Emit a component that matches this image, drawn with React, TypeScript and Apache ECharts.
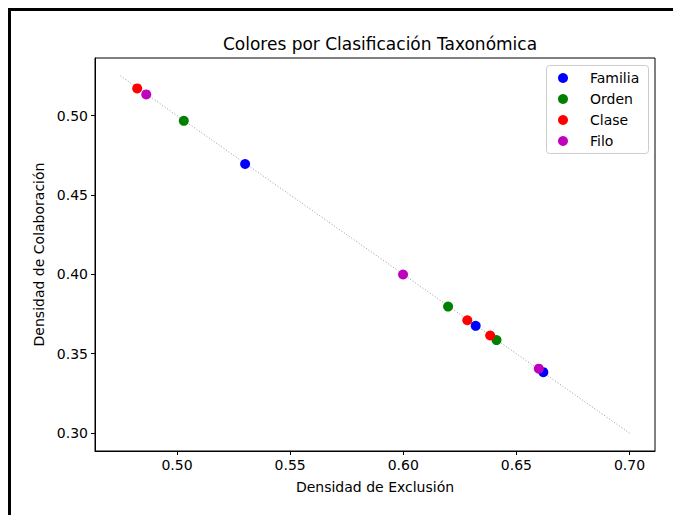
import React, { useEffect, useRef } from "react";
import * as echarts from "echarts";

const title = "Colores por Clasificación Taxonómica";
const xLabel = "Densidad de Exclusión";
const yLabel = "Densidad de Colaboración";

const categories = ["Familia", "Orden", "Clase", "Filo"];
const colors = ["#0000ff", "#008000", "#ff0000", "#bf00bf"];

const familiaPts: [number, number][] = [
  [0.5301, 0.4695],
  [0.632, 0.3676],
  [0.6619, 0.3384],
];
const ordenPts: [number, number][] = [
  [0.503, 0.4967],
  [0.6198, 0.3797],
  [0.6412, 0.3586],
];
const clasePts: [number, number][] = [
  [0.4824, 0.5171],
  [0.6283, 0.3711],
  [0.6384, 0.3615],
];
const filoPts: [number, number][] = [
  [0.4864, 0.5133],
  [0.5999, 0.3999],
  [0.6599, 0.3406],
];
const seriesPts = [familiaPts, ordenPts, clasePts, filoPts];

const refLine: [number, number][] = [
  [0.475, 0.525],
  [0.7, 0.3],
];

const xRange = [0.46375, 0.71125];
const yRange = [0.28875, 0.53625];

const FONT = "DejaVu Sans";

export default function App() {
  const ref = useRef<HTMLDivElement>(null);
  useEffect(() => {
    if (!ref.current) return;
    const chart = echarts.init(ref.current, undefined, { renderer: "svg" });
    const axisCommon = {
      axisLine: { show: true, onZero: false, lineStyle: { color: "#000", width: 1 } },
      axisTick: { show: true, inside: false, length: 4, lineStyle: { color: "#000", width: 1 } },
      splitLine: { show: false },
      nameTextStyle: { fontFamily: FONT, fontSize: 14, color: "#000" },
    };
    const labelCommon = {
      showMinLabel: false,
      showMaxLabel: false,
      margin: 7,
      fontFamily: FONT,
      fontSize: 14,
      color: "#000",
      formatter: (v: number) => v.toFixed(2),
    };
    chart.setOption({
      animation: false,
      backgroundColor: "#fff",
      title: {
        text: title,
        left: 375,
        top: 30,
        textAlign: "center",
        textStyle: { fontFamily: FONT, fontSize: 17, fontWeight: "normal", color: "#000" },
      },
      grid: {
        left: 95,
        right: 18,
        top: 58,
        bottom: 64,
        show: true,
        borderColor: "#000",
        borderWidth: 1,
        backgroundColor: "transparent",
      },
      legend: {
        orient: "vertical",
        left: 558,
        top: 71,
        data: categories,
        icon: "circle",
        itemWidth: 14,
        itemHeight: 10,
        itemGap: 7,
        padding: 0,
        textStyle: {
          fontFamily: FONT,
          fontSize: 14,
          color: "#000",
          padding: [0, 0, 0, 15],
        },
      },
      graphic: [
        {
          type: "rect",
          left: 546,
          top: 65,
          shape: { width: 102, height: 88, r: 3 },
          style: { fill: "rgba(255,255,255,0.8)", stroke: "#cccccc", lineWidth: 1 },
          z: 0,
        },
      ],
      xAxis: {
        type: "value",
        min: xRange[0],
        max: xRange[1],
        splitNumber: 5,
        name: xLabel,
        nameLocation: "middle",
        nameGap: 29,
        ...axisCommon,
        axisLabel: labelCommon,
      },
      yAxis: {
        type: "value",
        min: yRange[0],
        max: yRange[1],
        splitNumber: 5,
        name: yLabel,
        nameLocation: "middle",
        nameGap: 46,
        ...axisCommon,
        axisLabel: labelCommon,
      },
      series: [
        {
          type: "line",
          name: "ref",
          data: refLine,
          symbol: "none",
          silent: true,
          lineStyle: { color: "#999", width: 1, type: [1, 2] },
          z: 1,
        },
        ...categories.map((c, i) => ({
          type: "scatter",
          name: c,
          data: seriesPts[i],
          symbol: "circle",
          symbolSize: 10,
          itemStyle: { color: colors[i], opacity: 1 },
          z: 2 + i,
        })),
      ],
    });
    return () => chart.dispose();
  }, []);

  return (
    <>
      <div
        ref={ref}
        style={{ position: "fixed", left: 0, top: 0, width: 673, height: 515 }}
      />
      <div
        style={{
          position: "fixed",
          left: 8,
          top: 8,
          width: 665,
          height: 507,
          boxSizing: "border-box",
          borderTop: "3px solid #000",
          borderLeft: "3px solid #000",
          pointerEvents: "none",
        }}
      />
    </>
  );
}
